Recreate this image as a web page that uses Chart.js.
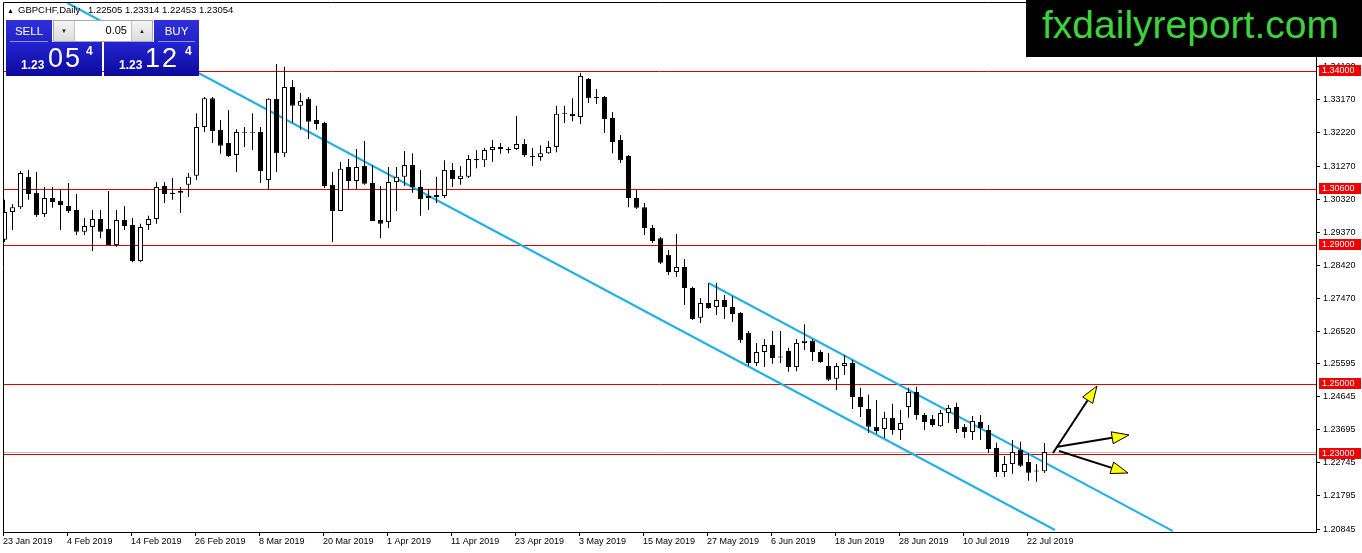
<!DOCTYPE html>
<html><head><meta charset="utf-8">
<script src="https://cdn.jsdelivr.net/npm/chart.js"></script>
<style>
html,body{margin:0;padding:0;background:#fff;overflow:hidden;}
#wrap{position:relative;width:1362px;height:553px;font-family:"Liberation Sans",Arial,sans-serif;}
canvas{position:absolute;left:0;top:0;}
.abs{position:absolute;white-space:pre;line-height:1;}
#tri{left:7px;top:7px;font-size:7px;color:#000;}
#sym{left:18px;top:5px;font-size:9.5px;color:#000;}
#ohlc{left:88px;top:5px;font-size:9.5px;color:#000;}
.hdr{position:absolute;top:20px;height:22px;background:linear-gradient(#3030dc,#2222c4);color:#fff;}
.hdr span{position:absolute;top:6px;left:0;right:0;text-align:center;font-size:11.5px;line-height:1;}
.hdr:after{content:"";position:absolute;left:4px;right:4px;bottom:0;height:1px;background:#8a90ff;}
#sellH{left:6px;width:46px;}
#buyH{left:154px;width:45px;}
#lot{position:absolute;left:53px;top:20px;width:98px;height:20px;border:1px solid #a8a8a8;background:#fff;}
.btn{position:absolute;top:0;width:20px;height:20px;background:linear-gradient(#f4f4f4,#dcdcdc);color:#222;font-size:6px;text-align:center;line-height:20px;}
#bl{left:0;border-right:1px solid #c0c0c0;}
#br{right:0;border-left:1px solid #c0c0c0;}
#lotv{position:absolute;right:25px;top:4px;font-size:11px;line-height:1;color:#000;}
.price{position:absolute;top:42px;height:34px;background:linear-gradient(#2424d2,#0a0a9c);color:#fff;}
#sellP{left:6px;width:96px;}
#buyP{left:104px;width:95px;}
.p1{position:absolute;left:15px;top:17px;font-size:12px;font-weight:bold;line-height:1;}
.p2{position:absolute;left:42px;top:3px;font-size:27px;line-height:1;letter-spacing:2px;}
.p3{position:absolute;left:80px;top:3px;font-size:12px;line-height:1;font-weight:bold;}
#buyP .p2{left:41px;}
#buyP .p3{left:81px;}
#logo{position:absolute;left:1026px;top:0;width:336px;height:57px;background:#000;}
#logo span{position:absolute;left:16px;top:5px;font-size:39px;line-height:1;color:#3cd33c;white-space:pre;}
</style></head>
<body>
<div id="wrap">
<canvas id="c" width="1362" height="553"></canvas>
<div class="abs" id="tri">▲</div>
<div class="abs" id="sym">GBPCHF,Daily</div>
<div class="abs" id="ohlc">1.22505 1.23314 1.22453 1.23054</div>
<div class="hdr" id="sellH"><span>SELL</span></div>
<div id="lot"><div class="btn" id="bl">▼</div><div id="lotv">0.05</div><div class="btn" id="br">▲</div></div>
<div class="hdr" id="buyH"><span>BUY</span></div>
<div class="price" id="sellP"><span class="p1">1.23</span><span class="p2">05</span><span class="p3">4</span></div>
<div class="price" id="buyP"><span class="p1">1.23</span><span class="p2">12</span><span class="p3">4</span></div>
<div id="logo"><span>fxdailyreport.com</span></div>
</div>
<script>
// ---- data (bar index 0 = 23 Jan 2019, daily, weekdays) ----
const openP = [
1.2915,1.2995,1.3009,1.3096,1.3050,1.2989,1.3035,1.3027,1.3012,1.3001,
1.2938,1.2952,1.2975,1.2946,1.2900,1.2972,1.2958,1.2854,1.2958,1.2975,
1.3070,1.3050,1.3050,1.3073,1.3099,1.3239,1.3322,1.3231,1.3193,1.3159,
1.3225,1.3225,1.3225,1.3087,1.3320,1.3164,1.3354,1.3300,1.3320,1.3259,
1.3251,1.3073,1.2998,1.3124,1.3084,1.3127,1.3078,1.2972,1.2966,1.3081,
1.3096,1.3130,1.3067,1.3035,1.3038,1.3041,1.3116,1.3090,1.3096,1.3147,
1.3144,1.3173,1.3182,1.3176,1.3176,1.3190,1.3156,1.3153,1.3164,1.3182,
1.3279,1.3277,1.3268,1.3377,1.3325,1.3325,1.3265,1.3202,1.3156,1.3035,
1.3009,1.2949,1.2920,1.2872,1.2823,1.2837,1.2777,1.2691,1.2734,1.2722,
1.2742,1.2722,1.2705,1.2648,1.2561,1.2593,1.2613,1.2579,1.2596,1.2550,
1.2619,1.2625,1.2593,1.2553,1.2516,1.2553,1.2561,1.2464,1.2429,1.2378,
1.2372,1.2404,1.2369,1.2435,1.2478,1.2412,1.2401,1.2380,1.2418,1.2435,
1.2378,1.2363,1.2392,1.2369,1.2317,1.2248,1.2271,1.2312,1.2277,1.2252,
1.22505];
const highP = [
1.3030,1.3018,1.3113,1.3116,1.3110,1.3067,1.3067,1.3058,1.3078,1.3047,
1.2978,1.3001,1.3001,1.3055,1.3001,1.3012,1.2978,1.2961,1.2984,1.3081,
1.3081,1.3093,1.3067,1.3107,1.3279,1.3325,1.3325,1.3259,1.3288,1.3233,
1.3239,1.3279,1.3239,1.3322,1.3420,1.3412,1.3374,1.3337,1.3325,1.3300,
1.3254,1.3110,1.3139,1.3147,1.3176,1.3199,1.3130,1.3070,1.3124,1.3124,
1.3170,1.3164,1.3116,1.3061,1.3096,1.3144,1.3136,1.3127,1.3159,1.3173,
1.3179,1.3202,1.3193,1.3182,1.3271,1.3205,1.3179,1.3187,1.3199,1.3300,
1.3300,1.3322,1.3394,1.3380,1.3348,1.3328,1.3282,1.3216,1.3159,1.3058,
1.3021,1.2958,1.2923,1.2886,1.2932,1.2860,1.2780,1.2748,1.2791,1.2791,
1.2757,1.2754,1.2708,1.2653,1.2619,1.2630,1.2653,1.2653,1.2605,1.2630,
1.2673,1.2630,1.2599,1.2590,1.2561,1.2584,1.2570,1.2490,1.2470,1.2455,
1.2421,1.2444,1.2426,1.2490,1.2493,1.2418,1.2412,1.2426,1.2441,1.2447,
1.2386,1.2409,1.2412,1.2383,1.2332,1.2294,1.2340,1.2335,1.2303,1.2271,
1.23314];
const lowP = [
1.2909,1.2943,1.3004,1.3030,1.2981,1.2981,1.3007,1.2943,1.2992,1.2929,
1.2929,1.2883,1.2920,1.2900,1.2895,1.2943,1.2851,1.2851,1.2943,1.2961,
1.3021,1.3030,1.2992,1.3038,1.3087,1.3225,1.3193,1.3162,1.3153,1.3110,
1.3182,1.3173,1.3078,1.3058,1.3110,1.3153,1.3251,1.3231,1.3205,1.3231,
1.3064,1.2909,1.2998,1.3058,1.3061,1.3073,1.2969,1.2920,1.2949,1.2998,
1.3070,1.3050,1.2984,1.3001,1.3021,1.3035,1.3067,1.3073,1.3093,1.3121,
1.3124,1.3139,1.3162,1.3164,1.3173,1.3153,1.3127,1.3142,1.3162,1.3167,
1.3251,1.3256,1.3248,1.3308,1.3305,1.3222,1.3164,1.3136,1.3009,1.3004,
1.2929,1.2906,1.2846,1.2814,1.2808,1.2728,1.2685,1.2676,1.2717,1.2699,
1.2688,1.2679,1.2619,1.2553,1.2553,1.2550,1.2559,1.2561,1.2536,1.2538,
1.2599,1.2567,1.2561,1.2510,1.2484,1.2527,1.2429,1.2406,1.2360,1.2358,
1.2346,1.2355,1.2340,1.2404,1.2398,1.2369,1.2378,1.2378,1.2389,1.2360,
1.2346,1.2340,1.2340,1.2303,1.2234,1.2234,1.2243,1.2263,1.2223,1.2220,
1.22453];
const closeP = [
1.2995,1.3009,1.3107,1.3047,1.2986,1.3035,1.3024,1.3015,1.2998,1.2938,
1.2955,1.2975,1.2938,1.2900,1.2972,1.2955,1.2854,1.2952,1.2975,1.3067,
1.3047,1.3047,1.3055,1.3096,1.3239,1.3322,1.3228,1.3185,1.3156,1.3225,
1.3223,1.3223,1.3113,1.3320,1.3164,1.3354,1.3300,1.3314,1.3254,1.3248,
1.3070,1.2998,1.3119,1.3084,1.3124,1.3076,1.2969,1.2961,1.3081,1.3096,
1.3130,1.3067,1.3032,1.3041,1.3044,1.3116,1.3090,1.3099,1.3147,1.3144,
1.3173,1.3182,1.3176,1.3173,1.3190,1.3159,1.3153,1.3164,1.3182,1.3277,
1.3277,1.3271,1.3386,1.3322,1.3322,1.3262,1.3196,1.3144,1.3035,1.3007,
1.2949,1.2912,1.2849,1.2823,1.2837,1.2777,1.2688,1.2734,1.2719,1.2742,
1.2722,1.2702,1.2627,1.2561,1.2593,1.2613,1.2576,1.2577,1.2550,1.2619,
1.2625,1.2593,1.2564,1.2513,1.2553,1.2561,1.2464,1.2435,1.2378,1.2366,
1.2404,1.2369,1.2389,1.2478,1.2412,1.2392,1.2383,1.2418,1.2432,1.2372,
1.2363,1.2395,1.2375,1.2314,1.2248,1.2271,1.2306,1.2266,1.2246,1.2250,
1.23054];

const xTickIdx = [0,8,16,24,32,40,48,56,64,72,80,88,96,104,112,120,128];
const xTickLabels = ['23 Jan 2019','4 Feb 2019','14 Feb 2019','26 Feb 2019','8 Mar 2019','20 Mar 2019',
  '1 Apr 2019','11 Apr 2019','23 Apr 2019','3 May 2019','15 May 2019','27 May 2019','6 Jun 2019',
  '18 Jun 2019','28 Jun 2019','10 Jul 2019','22 Jul 2019'];
const yTicks = [1.20845,1.21795,1.22745,1.23695,1.24645,1.25595,1.26520,1.27470,1.28420,1.29370,1.30320,1.31270,1.32220,1.33170,1.34120];
const levels = [1.34,1.306,1.29,1.25,1.23];
const bidPrice = 1.23054;
const trendLong = [{x:7.86,y:1.35953},{x:131.31,y:1.20817}];
const trendUpper = [{x:88,y:1.27911},{x:146.06,y:1.20788}];
const arrowFrom = [[131.06,1.23029],[131.44,1.23201],[131.81,1.23086]];
const arrowTo = [[136.56,1.24953],[140.56,1.23546],[140.44,1.22454]];

// ---- build datasets ----
const wicks = highP.map((h,i)=>({x:i,y:[lowP[i],h]}));
const bodies = openP.map((o,i)=>({x:i,y:[Math.min(o,closeP[i]),Math.max(o,closeP[i])]}));
const bodyFill = openP.map((o,i)=> closeP[i] > o ? '#ffffff' : '#000000');

const overlay = {
  id:'overlay',
  beforeDatasetsDraw(chart){
    const {ctx, chartArea:a, scales:{y}} = chart;
    ctx.save();
    ctx.lineWidth = 1;
    let yb = Math.round(y.getPixelForValue(bidPrice)) + 0.5;
    ctx.strokeStyle = '#c4c4c4';
    ctx.beginPath(); ctx.moveTo(a.left, yb); ctx.lineTo(a.right, yb); ctx.stroke();
    ctx.strokeStyle = '#e00000';
    levels.forEach(v=>{
      const yy = Math.round(y.getPixelForValue(v)) + 0.5;
      ctx.beginPath(); ctx.moveTo(a.left, yy); ctx.lineTo(a.right, yy); ctx.stroke();
    });
    ctx.restore();
  },
  afterDatasetsDraw(chart){
    const {ctx, scales:{x,y}} = chart;
    ctx.save();
    arrowFrom.forEach((f,k)=>{
      const t = arrowTo[k];
      const x1 = x.getPixelForValue(f[0]), y1 = y.getPixelForValue(f[1]);
      const x2 = x.getPixelForValue(t[0]), y2 = y.getPixelForValue(t[1]);
      const ang = Math.atan2(y2-y1, x2-x1), L = 17, W = 6;
      const c = Math.cos(ang), s = Math.sin(ang);
      const bx = x2 - L*c, by = y2 - L*s;
      ctx.strokeStyle = '#000'; ctx.lineWidth = 2;
      ctx.beginPath(); ctx.moveTo(x1,y1); ctx.lineTo(bx,by); ctx.stroke();
      ctx.beginPath();
      ctx.moveTo(x2,y2); ctx.lineTo(bx + W*s, by - W*c); ctx.lineTo(bx - W*s, by + W*c); ctx.closePath();
      ctx.fillStyle = '#ffff00'; ctx.fill();
      ctx.lineWidth = 1; ctx.stroke();
    });
    ctx.restore();
  },
  afterDraw(chart){
    const {ctx, chartArea:a, scales:{y}} = chart;
    ctx.save();
    ctx.strokeStyle = '#000'; ctx.lineWidth = 1;
    ctx.beginPath();
    ctx.moveTo(a.left+0.5, a.bottom); ctx.lineTo(a.left+0.5, a.top+0.5); ctx.lineTo(a.right, a.top+0.5);
    ctx.stroke();
    ctx.font = '9px "Liberation Sans", Arial, sans-serif';
    ctx.textBaseline = 'middle'; ctx.textAlign = 'left';
    levels.forEach(v=>{
      const yy = Math.round(y.getPixelForValue(v));
      ctx.fillStyle = '#f00000';
      ctx.fillRect(a.right+3, yy-6, 42, 11);
      ctx.fillStyle = '#ffffff';
      ctx.fillText(v.toFixed(5), a.right+6, yy-0.5);
    });
    ctx.restore();
  }
};

new Chart(document.getElementById('c'), {
  type:'bar',
  data:{ datasets:[
    { type:'bar', data:bodies, backgroundColor:bodyFill, borderColor:'#000', borderWidth:1, borderSkipped:false,
      barThickness:5, minBarLength:1, grouped:false, inflateAmount:0, order:1 },
    { type:'bar', data:wicks, backgroundColor:'#000', borderWidth:0, barThickness:1, grouped:false, inflateAmount:0, order:2 },
    { type:'line', data:trendLong, borderColor:'#1eb1e6', borderWidth:2, pointRadius:0, tension:0, clip:0, order:3 },
    { type:'line', data:trendUpper, borderColor:'#1eb1e6', borderWidth:2, pointRadius:0, tension:0, clip:0, order:3 }
  ]},
  options:{
    responsive:false, animation:false, devicePixelRatio:1,
    layout:{ padding:{ left:3, top:2, right:0, bottom:0 } },
    plugins:{ legend:{display:false}, tooltip:{enabled:false} },
    scales:{
      x:{ type:'linear', min:-0.1875, max:163.9375, offset:false,
        grid:{ display:true, offset:false, drawOnChartArea:false, drawTicks:true, tickLength:4, color:'#000', lineWidth:1 },
        border:{ display:true, color:'#000', width:1 },
        ticks:{ autoSkip:false, maxRotation:0, minRotation:0, align:'start', padding:0, color:'#000',
          font:{ family:'"Liberation Sans", Arial, sans-serif', size:9 },
          callback:(v,i)=> xTickLabels[i] },
        afterBuildTicks:s=>{ s.ticks = xTickIdx.map(v=>({value:v-0.1875})); },
        afterFit:s=>{ s.height = 21; s.paddingLeft=0; s.paddingRight=0; s.paddingTop=0; s.paddingBottom=0; }
      },
      y:{ type:'linear', position:'right', min:1.207596, max:1.359818, beginAtZero:false,
        grid:{ display:true, drawOnChartArea:false, drawTicks:true, tickLength:4, color:'#000', lineWidth:1 },
        border:{ display:true, color:'#000', width:1 },
        ticks:{ autoSkip:false, padding:3, color:'#000',
          font:{ family:'"Liberation Sans", Arial, sans-serif', size:9 },
          callback:v=> Number(v).toFixed(5) },
        afterBuildTicks:s=>{ s.ticks = yTicks.map(v=>({value:v})); },
        afterFit:s=>{ s.width = 46; s.paddingLeft=0; s.paddingRight=0; s.paddingTop=0; s.paddingBottom=0; }
      }
    }
  },
  plugins:[overlay]
});
</script>
</body></html>
